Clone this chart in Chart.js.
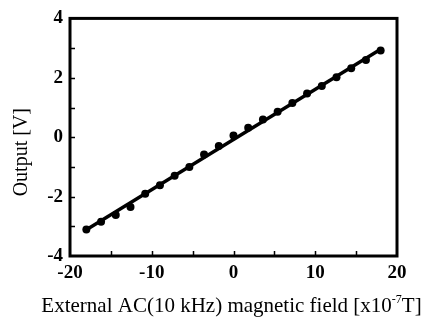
<!DOCTYPE html>
<html>
<head>
<meta charset="utf-8">
<script src="https://cdn.jsdelivr.net/npm/chart.js@4.4.1/dist/chart.umd.min.js"></script>
<style>
  html, body { margin: 0; padding: 0; background: #fff; }
  #wrap { width: 427px; height: 320px; }
</style>
</head>
<body>
<div id="wrap"><canvas id="myChart" width="427" height="320"></canvas></div>
<script>
// measured points
const fieldValues = [-18, -16.2, -14.4, -12.6, -10.8, -9, -7.2, -5.4, -3.6, -1.8, 0,
                     1.8, 3.6, 5.4, 7.2, 9, 10.8, 12.6, 14.4, 16.2, 18];
const outputValues = [-3.11, -2.85, -2.62, -2.35, -1.9, -1.62, -1.3, -1.0, -0.58, -0.3, 0.06,
                      0.32, 0.6, 0.86, 1.15, 1.47, 1.72, 2.02, 2.32, 2.6, 2.92];
// fitted straight line
const fitX = [-18, 18];
const fitY = [-3.12, 2.96];
// axis ticks
const xTicks = [-20, -10, 0, 10, 20];
const yTicks = [-4, -2, 0, 2, 4];
const xMinor = [-15, -10, -5, 0, 5, 10, 15];
const yMinor = [-3, -2, -1, 0, 1, 2, 3];
// x axis title: main part, superscript, tail
const xTitle = ['External AC(10 kHz) magnetic field [x10', '-7', 'T]'];

const serif = "'Liberation Serif', 'Times New Roman', serif";

// frame, inward ticks and the x title (it has a superscript)
const framePlugin = {
    id: 'frame',
    afterDatasetsDraw(chart) {
        const c = chart.ctx, a = chart.chartArea;
        const xs = chart.scales.x, ys = chart.scales.y;
        c.save();
        c.strokeStyle = '#000';
        c.lineWidth = 3;
        c.strokeRect(a.left, a.top, a.right - a.left, a.bottom - a.top);
        c.lineWidth = 1.5;
        c.beginPath();
        xMinor.forEach(function (v) {
            const px = Math.round(xs.getPixelForValue(v)) + 0.5;
            c.moveTo(px, a.bottom);
            c.lineTo(px, a.bottom - 5);
        });
        yMinor.forEach(function (v) {
            const py = Math.round(ys.getPixelForValue(v)) + 0.5;
            c.moveTo(a.left, py);
            c.lineTo(a.left + 5, py);
        });
        c.stroke();
        c.restore();
    },
    afterDraw(chart) {
        const c = chart.ctx, a = chart.chartArea;
        const big = '21px ' + serif, small = '12px ' + serif;
        c.save();
        c.fillStyle = '#000';
        c.textBaseline = 'alphabetic';
        c.font = big;
        const w0 = c.measureText(xTitle[0]).width;
        const w2 = c.measureText(xTitle[2]).width;
        c.font = small;
        const w1 = c.measureText(xTitle[1]).width;
        const total = w0 + w1 + w2;
        let x = (a.left + a.right) / 2 - total / 2 - 2;
        const base = 312;
        c.font = big;
        c.fillText(xTitle[0], x, base);
        x += w0;
        c.font = small;
        c.fillText(xTitle[1], x, base - 9);
        x += w1;
        c.font = big;
        c.fillText(xTitle[2], x, base);
        c.restore();
    }
};

const ctx = document.getElementById('myChart');

new Chart(ctx, {
    type: 'scatter',
    data: {
        datasets: [{
            label: 'fit',
            data: fitX.map(function (x, i) { return { x: x, y: fitY[i] }; }),
            showLine: true,
            borderColor: '#000',
            borderWidth: 3.5,
            pointRadius: 0
        }, {
            label: 'measured',
            data: fieldValues.map(function (x, i) { return { x: x, y: outputValues[i] }; }),
            showLine: false,
            backgroundColor: '#000',
            borderColor: '#000',
            pointRadius: 4,
            pointBorderWidth: 0
        }]
    },
    options: {
        responsive: false,
        animation: false,
        layout: { padding: { top: 15, right: 30, left: 0, bottom: 0 } },
        plugins: {
            legend: { display: false },
            tooltip: { enabled: false }
        },
        scales: {
            x: {
                type: 'linear',
                min: -20, max: 20,
                afterFit: function (scale) { scale.height = 64; },
                afterBuildTicks: function (scale) {
                    scale.ticks = xTicks.map(function (v) { return { value: v }; });
                },
                grid: { display: false, drawTicks: false },
                border: { display: false },
                ticks: {
                    color: '#000',
                    padding: 6,
                    maxRotation: 0,
                    font: { family: serif, size: 19, weight: 'bold' }
                },
                title: { display: false }
            },
            y: {
                type: 'linear',
                min: -4, max: 4,
                afterFit: function (scale) { scale.width = 70; },
                afterBuildTicks: function (scale) {
                    scale.ticks = yTicks.map(function (v) { return { value: v }; });
                },
                grid: { display: false, drawTicks: false },
                border: { display: false },
                ticks: {
                    color: '#000',
                    padding: 7,
                    font: { family: serif, size: 19, weight: 'bold' }
                },
                title: {
                    display: true,
                    text: 'Output [V]\u00A0\u00A0\u00A0\u00A0\u00A0\u00A0',
                    color: '#000',
                    padding: { top: 10, bottom: 0 },
                    font: { family: serif, size: 20 }
                }
            }
        }
    },
    plugins: [framePlugin]
});
</script>
</body>
</html>
